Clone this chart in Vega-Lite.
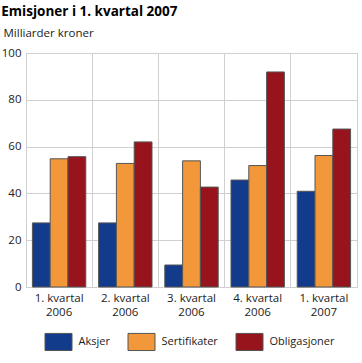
{
  "$schema": "https://vega.github.io/schema/vega-lite/v6.json",
  "autosize": {"type": "none"},
  "padding": {"left": 26, "top": 53, "right": 5, "bottom": 76},
  "width": 331,
  "height": 234,
  "background": "white",
  "title": {
    "text": "Emisjoner i 1. kvartal 2007",
    "anchor": "start",
    "frame": "bounds",
    "font": "Open Sans",
    "fontSize": 13.5,
    "fontWeight": "bold",
    "color": "#000",
    "offset": 9
  },
  "data": {
    "values": [
      {"kvartal": "1. kvartal 2006", "type": "Aksjer", "value": 27.4},
      {"kvartal": "1. kvartal 2006", "type": "Sertifikater", "value": 54.8},
      {"kvartal": "1. kvartal 2006", "type": "Obligasjoner", "value": 55.7},
      {"kvartal": "2. kvartal 2006", "type": "Aksjer", "value": 27.4},
      {"kvartal": "2. kvartal 2006", "type": "Sertifikater", "value": 52.8},
      {"kvartal": "2. kvartal 2006", "type": "Obligasjoner", "value": 62.0},
      {"kvartal": "3. kvartal 2006", "type": "Aksjer", "value": 9.4},
      {"kvartal": "3. kvartal 2006", "type": "Sertifikater", "value": 53.9},
      {"kvartal": "3. kvartal 2006", "type": "Obligasjoner", "value": 42.7},
      {"kvartal": "4. kvartal 2006", "type": "Aksjer", "value": 45.7},
      {"kvartal": "4. kvartal 2006", "type": "Sertifikater", "value": 51.9},
      {"kvartal": "4. kvartal 2006", "type": "Obligasjoner", "value": 91.9},
      {"kvartal": "1. kvartal 2007", "type": "Aksjer", "value": 40.9},
      {"kvartal": "1. kvartal 2007", "type": "Sertifikater", "value": 56.2},
      {"kvartal": "1. kvartal 2007", "type": "Obligasjoner", "value": 67.5}
    ]
  },
  "mark": {"type": "bar", "stroke": "#555", "strokeWidth": 1},
  "encoding": {
    "x": {
      "field": "kvartal",
      "type": "nominal",
      "sort": null,
      "scale": {"paddingInner": 0, "paddingOuter": 0},
      "axis": {
        "title": null,
        "labelAngle": 0,
        "labelExpr": "[slice(datum.label,0,10), slice(datum.label,11)]",
        "labelFont": "Open Sans",
        "labelFontSize": 11.5,
        "labelColor": "#222",
        "labelLineHeight": 14,
        "labelPadding": 5,
        "ticks": false,
        "domain": false,
        "grid": true,
        "bandPosition": 0,
        "gridColor": "#d0d0d0"
      }
    },
    "xOffset": {
      "field": "type",
      "type": "nominal",
      "sort": ["Aksjer", "Sertifikater", "Obligasjoner"],
      "scale": {"paddingInner": 0, "paddingOuter": 0.36}
    },
    "y": {
      "field": "value",
      "type": "quantitative",
      "scale": {"domain": [0, 100]},
      "axis": {
        "values": [0, 20, 40, 60, 80, 100],
        "title": "Milliarder kroner",
        "titleAngle": 0,
        "titleAlign": "left",
        "titleBaseline": "alphabetic",
        "titleX": -23,
        "titleY": -17,
        "titleFont": "Open Sans",
        "titleFontSize": 11.5,
        "titleFontWeight": "normal",
        "titleColor": "#222",
        "labelFont": "Open Sans",
        "labelFontSize": 11.5,
        "labelColor": "#222",
        "labelPadding": 5,
        "ticks": false,
        "domain": false,
        "gridColor": "#d0d0d0"
      }
    },
    "color": {
      "field": "type",
      "type": "nominal",
      "sort": ["Aksjer", "Sertifikater", "Obligasjoner"],
      "scale": {
        "domain": ["Aksjer", "Sertifikater", "Obligasjoner"],
        "range": ["#123b8c", "#f2973a", "#97141c"]
      },
      "legend": {
        "title": null,
        "orient": "bottom",
        "direction": "horizontal",
        "symbolType": "M-1.5,-0.95H1.5V0.95H-1.5Z",
        "symbolSize": 324,
        "symbolStrokeColor": "#555",
        "symbolStrokeWidth": 1,
        "symbolOpacity": 1,
        "labelFont": "Open Sans",
        "labelFontSize": 11,
        "labelColor": "#222",
        "labelOffset": 10.5,
        "columnPadding": 16,
        "offset": 14
      }
    }
  },
  "config": {
    "view": {"stroke": "#d0d0d0"},
    "legend": {"layout": {"bottom": {"anchor": "middle"}}}
  }
}
